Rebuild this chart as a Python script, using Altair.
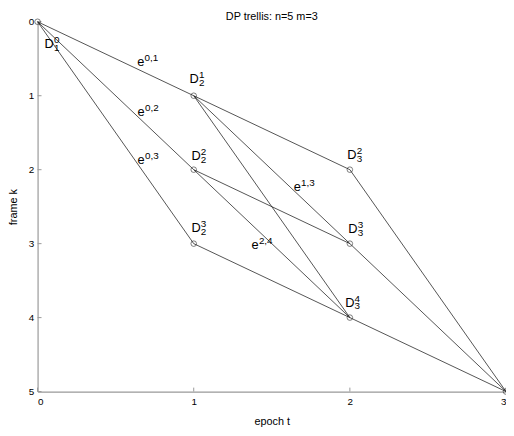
import altair as alt
import pandas as pd

FONT = "Liberation Sans"

title_text = ["DP trellis: n=5 m=3"]

# trellis nodes (epoch t, frame k)
node_t = [0, 1, 1, 1, 2, 2, 2, 3]
node_k = [0, 1, 2, 3, 2, 3, 4, 5]

# edges
edge_t0 = [0, 0, 0, 1, 1, 1, 1, 1, 1, 2, 2, 2]
edge_k0 = [0, 0, 0, 1, 1, 1, 2, 2, 3, 2, 3, 4]
edge_t1 = [1, 1, 1, 2, 2, 2, 2, 2, 2, 3, 3, 3]
edge_k1 = [1, 2, 3, 2, 3, 4, 3, 4, 4, 5, 5, 5]

# node labels D_sub^sup
d_sup = ["0", "1", "2", "3", "2", "3", "4"]
d_sub = ["1", "2", "2", "2", "3", "3", "3"]
d_t = [0.045, 0.973, 0.985, 0.985, 1.984, 1.99, 1.97]
d_k = [0.35, 0.83, 1.87, 2.84, 1.85, 2.85, 3.85]

# edge labels e^sup
e_sup = ["0,1", "0,2", "0,3", "1,3", "2,4"]
e_t = [0.638, 0.64, 0.64, 1.64, 1.37]
e_k = [0.60, 1.28, 1.92, 2.29, 3.07]

x_ticks = [0, 1, 2, 3]
y_ticks = [0, 1, 2, 3, 4, 5]

W, H = 475, 375

nodes = pd.DataFrame({"t": node_t, "k": node_k})
edges = pd.DataFrame({"t0": edge_t0, "k0": edge_k0, "t1": edge_t1, "k1": edge_k1})
dlab = pd.DataFrame({"t": d_t, "k": d_k, "base": ["D"] * len(d_t), "sup": d_sup, "sub": d_sub})
elab = pd.DataFrame({"t": e_t, "k": e_k, "base": ["e"] * len(e_t), "sup": e_sup})
xt = pd.DataFrame({"t": x_ticks})
yt = pd.DataFrame({"k": y_ticks})
tt = pd.DataFrame({"title": title_text})

xs = alt.Scale(domain=[0, 3], nice=False)
ys = alt.Scale(domain=[0, 5], reverse=True, nice=False)

xax = alt.Axis(values=x_ticks, format="d", title="epoch t", ticks=False, grid=False,
               labelPadding=5, titlePadding=9)
yax = alt.Axis(values=y_ticks, format="d", title="frame k", ticks=False, grid=False,
               labelPadding=4, titlePadding=10)

edge_layer = alt.Chart(edges).mark_rule(color="#1a1a1a", strokeWidth=0.75).encode(
    x=alt.X("t0:Q", scale=xs, axis=xax),
    y=alt.Y("k0:Q", scale=ys, axis=yax),
    x2="t1:Q",
    y2="k1:Q",
)

node_layer = alt.Chart(nodes).mark_point(shape="circle", filled=False, size=32,
                                         color="#1a1a1a", strokeWidth=0.8).encode(
    x=alt.X("t:Q", scale=xs), y=alt.Y("k:Q", scale=ys)
)

def txt(df, field, size, dx, dy):
    return alt.Chart(df).mark_text(align="left", baseline="alphabetic", font=FONT,
                                   fontSize=size, dx=dx, dy=dy, color="black").encode(
        x=alt.X("t:Q", scale=xs), y=alt.Y("k:Q", scale=ys), text=f"{field}:N"
    )

d_base = txt(dlab, "base", 13, 0, 0)
d_sp = txt(dlab, "sup", 10, 9.5, -5)
d_sb = txt(dlab, "sub", 10, 9.5, 3)
e_base = txt(elab, "base", 13, 0, 0)
e_sp = txt(elab, "sup", 10, 7.5, -5)

xtick_layer = alt.Chart(xt).mark_rule(color="#999", strokeWidth=1).encode(
    x=alt.X("t:Q", scale=xs), y=alt.value(H), y2=alt.value(H - 4)
)
ytick_layer = alt.Chart(yt).mark_rule(color="#999", strokeWidth=1).encode(
    y=alt.Y("k:Q", scale=ys), x=alt.value(0), x2=alt.value(4)
)

title_layer = alt.Chart(tt).mark_text(align="center", baseline="alphabetic", font=FONT,
                                      fontSize=11, color="black").encode(
    x=alt.value(W / 2), y=alt.value(-2), text="title:N"
)

chart = alt.layer(
    xtick_layer, ytick_layer, edge_layer, node_layer,
    d_base, d_sp, d_sb, e_base, e_sp, title_layer
).properties(
    width=W, height=H,
    autosize=alt.AutoSizeParams(type="none"),
    padding={"left": 30, "top": 11, "right": 0, "bottom": 34},
).configure_view(stroke=None).configure_axis(
    domainColor="#999", domainWidth=1.2,
    labelFont=FONT, labelFontSize=10, labelColor="black",
    titleFont=FONT, titleFontSize=11, titleFontWeight="normal", titleColor="black",
)

chart.save("out.html", embed_options={"renderer": "svg", "actions": False})
